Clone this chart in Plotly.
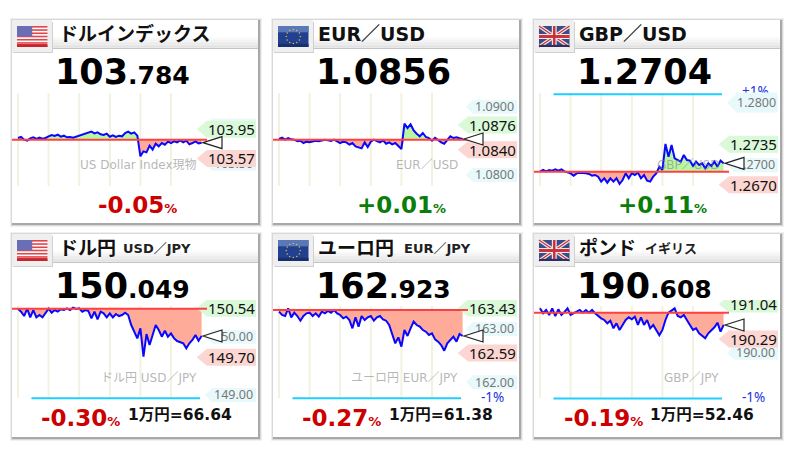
import numpy as np
import plotly.graph_objects as go

W, H = 788, 458
JP = "DejaVu Sans, Noto Sans CJK JP"
TAG_FONT = "Noto Sans, Noto Sans CJK JP"

titles = ["ドルインデックス", "EUR／USD", "GBP／USD", "ドル円", "ユーロ円", "ポンド"]
subtitles = ["", "", "", "USD／JPY", "EUR／JPY", "イギリス"]
flags = ["us", "eu", "uk", "us", "eu", "uk"]
price_main = ["103", "1.0856", "1.2704", "150", "162", "190"]
price_frac = [".784", "", "", ".049", ".923", ".608"]
changes = ["-0.05", "+0.01", "+0.11", "-0.30", "-0.27", "-0.19"]
yen_rates = ["", "", "", "1万円=66.64", "1万円=61.38", "1万円=52.46"]
marks = ["US Dollar Index現物", "EUR／USD", "GBP／USD", "ドル円 USD／JPY", "ユーロ円 EUR／JPY", "GBP／JPY"]

prev_close = [103.815, 1.08517, 1.26893, 150.48, 163.356, 190.857]
high_vals = [103.95, 1.0876, 1.2735, 150.54, 163.43, 191.04]
high_text = ["103.95", "1.0876", "1.2735", "150.54", "163.43", "191.04"]
low_vals = [103.57, 1.0840, 1.2670, 149.70, 162.59, 190.29]
low_text = ["103.57", "1.0840", "1.2670", "149.70", "162.59", "190.29"]
tick_vals = [[104.0, 103.5], [1.09, 1.08], [1.28, 1.27], [150.0, 149.0], [163.0, 162.0], [190.0]]
tick_text = [["104.00", "103.50"], ["1.0900", "1.0800"], ["1.2800", "1.2700"],
             ["150.00", "149.00"], ["163.00", "162.00"], ["190.00"]]
pct_lines = [None, None, 1.28134, 148.943, 161.70, 189.02]
pct_text = ["", "", "+1%", "", "-1%", "-1%"]
y_ranges = [(103.025, 104.544), (1.07634, 1.09332), (1.26438, 1.283),
            (148.846, 150.629), (161.594, 163.544), (188.90, 191.128)]
grid_steps = [0, 10, 20, 30, 40, 50]

dxy = [103.837, 103.85, 103.815, 103.802, 103.832, 103.846, 103.824, 103.841, 103.828, 103.837,
       103.859, 103.876, 103.863, 103.881, 103.854, 103.867, 103.846, 103.85, 103.841, 103.854,
       103.867, 103.881, 103.894, 103.902, 103.92, 103.898, 103.911, 103.885, 103.876, 103.894,
       103.854, 103.872, 103.85, 103.867, 103.859, 103.902, 103.92, 103.894, 103.911, 103.867,
       103.597, 103.662, 103.649, 103.736, 103.684, 103.763, 103.728, 103.771, 103.749, 103.789,
       103.771, 103.793, 103.78, 103.806, 103.78, 103.802, 103.754, 103.771, 103.793, 103.767, 103.776]
eurusd = [1.08527, 1.08546, 1.08517, 1.08541, 1.08522, 1.08517, 1.08493, 1.08502, 1.08468, 1.08488,
          1.08478, 1.08488, 1.08502, 1.08493, 1.08502, 1.08517, 1.08507, 1.08497, 1.08517, 1.08497,
          1.08468, 1.08488, 1.08478, 1.08444, 1.08468, 1.08419, 1.084, 1.0839, 1.08478, 1.0841,
          1.08488, 1.08517, 1.08497, 1.08478, 1.08507, 1.08458, 1.08478, 1.08449, 1.08468, 1.08429,
          1.0838, 1.08751, 1.08688, 1.08741, 1.08654, 1.08605, 1.08566, 1.08615, 1.08556, 1.08541,
          1.08502, 1.08546, 1.08507, 1.08478, 1.08458, 1.08507, 1.08566, 1.08541, 1.08551, 1.08537, 1.08527]
gbpusd = [1.26893, 1.2692, 1.26898, 1.2692, 1.26909, 1.2693, 1.26909, 1.2693, 1.26898, 1.26877,
          1.26866, 1.26829, 1.26866, 1.26877, 1.26877, 1.26866, 1.26856, 1.26829, 1.2684, 1.26813,
          1.26733, 1.26786, 1.26716, 1.26786, 1.26733, 1.26786, 1.26695, 1.26759, 1.26866, 1.26786,
          1.26866, 1.2684, 1.26877, 1.26786, 1.2684, 1.26749, 1.26733, 1.26813, 1.26866, 1.26973,
          1.2692, 1.27337, 1.27134, 1.27321, 1.27107, 1.2708, 1.27054, 1.27161, 1.2708, 1.2707,
          1.26984, 1.27054, 1.27, 1.27027, 1.26946, 1.27027, 1.26984, 1.27054, 1.26973, 1.2707, 1.27027]
usdjpy = [150.48, 150.429, 150.354, 150.48, 150.331, 150.457, 150.331, 150.371, 150.331, 150.411,
          150.48, 150.411, 150.457, 150.429, 150.469, 150.457, 150.486, 150.457, 150.497, 150.474,
          150.486, 150.429, 150.457, 150.44, 150.314, 150.429, 150.297, 150.429, 150.4, 150.331,
          150.4, 150.331, 150.389, 150.354, 150.371, 150.411, 150.371, 150.2, 150.086, 149.971,
          150.143, 149.657, 150.046, 149.857, 150.029, 150.2, 150.114, 150.0, 150.103, 150.0,
          150.057, 149.971, 149.926, 149.903, 149.886, 149.8, 149.886, 149.943, 150.029, 149.931, 150.011]
eurjpy = [163.325, 163.263, 163.244, 163.388, 163.219, 163.306, 163.244, 163.156, 163.244, 163.294,
          163.306, 163.244, 163.294, 163.231, 163.325, 163.294, 163.338, 163.306, 163.356, 163.294,
          163.263, 163.2, 163.231, 163.169, 163.013, 163.219, 163.044, 163.244, 163.169, 163.219,
          163.244, 163.156, 163.219, 163.244, 163.181, 163.156, 163.075, 162.919, 162.731, 162.844,
          162.669, 162.981, 162.869, 163.013, 163.138, 163.075, 163.044, 162.981, 162.95, 162.888,
          162.919, 162.806, 162.763, 162.7, 162.594, 162.731, 162.794, 162.856, 162.763, 162.906, 162.869]
gbpjpy = [190.95, 190.843, 190.914, 190.807, 190.95, 190.785, 190.928, 190.807, 190.871, 190.95,
          190.807, 190.843, 190.871, 190.914, 190.857, 190.914, 190.857, 190.914, 190.843, 190.785,
          190.735, 190.7, 190.628, 190.685, 190.521, 190.628, 190.486, 190.593, 190.7, 190.757,
          190.714, 190.771, 190.593, 190.757, 190.593, 190.7, 190.521, 190.593, 190.486, 190.371,
          190.486, 190.7, 190.857, 190.914, 190.95, 190.785, 190.757, 190.807, 190.685, 190.593,
          190.486, 190.521, 190.414, 190.357, 190.307, 190.414, 190.486, 190.543, 190.642, 190.45, 190.593]
series = [dxy, eurusd, gbpusd, usdjpy, eurjpy, gbpjpy]

card_left = [12, 273, 534, 12, 273, 534]
card_top = [20, 20, 20, 234, 234, 234]
sub_offset = [0, 0, 0, 110, 130, 110]
CARD_W = 246
CARD_H = 203
tag_shift = [0, -2, -1, -3, -2, 0]

shapes = []
notes = []


def px(x):
    return x / W


def py(y):
    return 1 - y / H


def rect(x0, y0, x1, y1, color, layer="below"):
    shapes.append(dict(type="rect", xref="paper", yref="paper", x0=px(x0), x1=px(x1), y0=py(y0), y1=py(y1),
                       fillcolor=color, line_width=0, layer=layer))


def seg(x0, y0, x1, y1, color, width):
    shapes.append(dict(type="line", xref="paper", yref="paper", x0=px(x0), x1=px(x1), y0=py(y0), y1=py(y1),
                       line=dict(color=color, width=width), layer="below"))


def text(x, y, s, size, color, anchor="left", font=JP, bold=False):
    notes.append(dict(xref="paper", yref="paper", x=px(x), y=py(y), text=f"<b>{s}</b>" if bold else s,
                      showarrow=False, xanchor=anchor, yanchor="middle", borderpad=0,
                      font=dict(family=font, size=size, color=color)))


def draw_flag(kind, x0, y0, x1, y1):
    """Flags are plain rectangles, lines and dots."""
    w, h = x1 - x0, y1 - y0
    if kind == "us":
        rect(x0, y0, x1, y1, "#ffffff")
        for i in range(0, 7):
            top = y0 + h * i * 2 / 13
            rect(x0, top, x1, top + h / 13, "#e0474c")
        rect(x0, y1 - h * 0.14, x1, y1, "#c8242a")
        rect(x0, y0, x0 + w * 0.5, y0 + h * 0.5, "#6a6fb5")
    elif kind == "eu":
        rect(x0, y0, x1, y1, "#22408f")
        rect(x0, y0, x1, y0 + h * 0.3, "#5a78b8")
        rect(x0, y1 - h * 0.15, x1, y1, "#16306e")
        cx, cy = (x0 + x1) / 2, (y0 + y1) / 2
        for a in np.arange(0, 360, 30):
            sx = cx + 7 * np.cos(np.radians(a))
            sy = cy + 7 * np.sin(np.radians(a))
            shapes.append(dict(type="circle", xref="paper", yref="paper", x0=px(sx - 0.7), x1=px(sx + 0.7),
                               y0=py(sy - 0.7), y1=py(sy + 0.7), fillcolor="#e8c840", line_width=0, layer="below"))
    else:
        rect(x0, y0, x1, y1, "#3c4a86")
        seg(x0, y0, x1, y1, "#f2e8e8", 3.5)
        seg(x0, y1, x1, y0, "#f2e8e8", 3.5)
        seg(x0, y0, x1, y1, "#c8303a", 1.2)
        seg(x0, y1, x1, y0, "#c8303a", 1.2)
        rect(x0 + w * 0.42, y0, x0 + w * 0.58, y1, "#f2e8e8")
        rect(x0, y0 + h * 0.38, x1, y0 + h * 0.62, "#f2e8e8")
        rect(x0 + w * 0.46, y0, x0 + w * 0.54, y1, "#c8303a")
        rect(x0, y0 + h * 0.43, x1, y0 + h * 0.57, "#c8303a")
        rect(x0, y1 - h * 0.1, x1, y1, "#2a3060")


def draw_card(i):
    """Card frame with shadow, header gradient and the tab under the flag."""
    L, T = card_left[i], card_top[i]
    R, B = L + CARD_W, T + CARD_H
    rect(L - 2, T - 2, R + 4, B + 4, "#f0f0f0")
    rect(L - 1, T - 1, R + 3, B + 3, "#d8d8d8")
    rect(L, T, R + 2, B + 2, "#a8a8a8")
    rect(L, T, R, B, "#ffffff")
    for k in range(12):
        shade = 255 - max(0, k - 3) * 4
        rect(L, T + 11 + k * 1.5, R, T + 11 + (k + 1) * 1.5, f"rgb({shade},{shade},{shade})")
    seg(L, T + 28.5, R, T + 28.5, "#c4c4c4", 1)
    rect(L + 1, T + 2, L + 41, T + 33, "#d0d0d0")
    rect(L, T, L + 40, T + 32, "#efefef")
    draw_flag(flags[i], L + 5, T + 6, L + 35.5, T + 27)


fig = go.Figure()

for i, values in enumerate(series):
    L, T = card_left[i], card_top[i]
    top_row = i < 3
    ax = "" if i == 0 else str(i + 1)
    xname, yname = "x" + ax, "y" + ax
    prev = prev_close[i]
    draw_card(i)

    grid0 = L + 6
    plot_top, plot_bottom = (84, 200) if top_row else (300, 404)
    fig.update_layout(**{
        "xaxis" + ax: dict(domain=[px(grid0 - 3.06), px(grid0 + 186.66)], range=[-1, 61], visible=False,
                           anchor=yname, fixedrange=True),
        "yaxis" + ax: dict(domain=[py(plot_bottom), py(plot_top)], range=list(y_ranges[i]), side="right",
                           anchor="free", position=px(L + 201), showgrid=False, zeroline=False, showline=False,
                           ticks="", tickmode="array",
                           tickvals=[v for v in tick_vals[i] if not (i == 2 and v == 1.28)],
                           ticktext=[s for s in tick_text[i] if not (i == 2 and s == "1.2800")],
                           tickfont=dict(family=TAG_FONT, size=12.5, color="#777777"), fixedrange=True),
    })

    # session grid
    grid_y = (93, 186) if top_row else (306, 398)
    for g in grid_steps:
        shapes.append(dict(type="line", xref=xname, yref="paper", x0=g, x1=g, y0=py(grid_y[0]), y1=py(grid_y[1]),
                           line=dict(color="#f2f2e0", width=2), layer="below"))

    # pale arrow tags behind the axis labels
    for v in tick_vals[i]:
        shapes.append(dict(type="path", xref="paper", yref=yname, ysizemode="pixel", yanchor=v,
                           path=f"M {px(L + 193)} 0 L {px(L + 200)} 7 L {px(L + 244)} 7 "
                                f"L {px(L + 244)} -7 L {px(L + 200)} -7 Z",
                           fillcolor="#e8f9fb", line_width=0, layer="below"))

    # filled area against previous close, then the price line
    xs = list(range(len(values)))
    low_side = np.minimum(values, prev)
    high_side = np.maximum(values, prev)
    base = [prev] * len(values)
    for side, color in ((low_side, "#ffab99"), (high_side, "#b9f5a2")):
        fig.add_trace(go.Scatter(x=xs, y=base, mode="lines", line_width=0, xaxis=xname, yaxis=yname,
                                 showlegend=False, hoverinfo="skip"))
        fig.add_trace(go.Scatter(x=xs, y=side, mode="lines", line_width=0, fill="tonexty", fillcolor=color,
                                 xaxis=xname, yaxis=yname, showlegend=False, hoverinfo="skip"))
    fig.add_trace(go.Scatter(x=xs, y=values, mode="lines", line=dict(color="#0808ff", width=2),
                             xaxis=xname, yaxis=yname, showlegend=False, hoverinfo="skip"))

    # high / low tags sit above the axis labels
    sh = tag_shift[i]
    for v, s, fillc in ((high_vals[i], high_text[i], "#d9f9d9"), (low_vals[i], low_text[i], "#fcd6d2")):
        shapes.append(dict(type="path", xref="paper", yref=yname, ysizemode="pixel", yanchor=v,
                           path=f"M {px(L + 184.7)} {sh} L {px(L + 195)} {sh + 8.5} L {px(L + 244)} {sh + 8.5} "
                                f"L {px(L + 244)} {sh - 8.5} L {px(L + 195)} {sh - 8.5} Z",
                           fillcolor=fillc, line_width=0, layer="above"))
        notes.append(dict(xref="paper", yref=yname, x=px(L + 243.5), y=v, yshift=sh, text=s, showarrow=False,
                          xanchor="right", yanchor="middle", borderpad=0,
                          font=dict(family=TAG_FONT, size=15, color="#111111")))

    # previous close
    shapes.append(dict(type="line", xref="paper", yref=yname, x0=px(L), x1=px(L + 195), y0=prev, y1=prev,
                       line=dict(color="#ff4040", width=2), layer="above"))

    # marker at the last price
    shapes.append(dict(type="path", xref="paper", yref=yname, ysizemode="pixel", yanchor=values[-1],
                       path=f"M {px(L + 191)} 0 L {px(L + 210)} 6 L {px(L + 210)} -6 Z",
                       fillcolor="#ffffff", line=dict(color="#222222", width=1.2), layer="above"))

    if pct_lines[i] is not None:
        shapes.append(dict(type="line", xref=xname, yref=yname, x0=4.4, x1=59.5, y0=pct_lines[i], y1=pct_lines[i],
                           line=dict(color="#22ccff", width=2), layer="below"))
    if pct_text[i]:
        y_label = T + 71 if i == 2 else T + 163
        text(L + 207, y_label, pct_text[i], 13.5, "#2233dd", font=TAG_FONT)
    if i == 2:
        notes.append(dict(xref="paper", yref=yname, x=px(L + 243.5), y=1.28, text="1.2800", showarrow=False,
                          xanchor="right", yanchor="middle", bgcolor="#e8f9fb", borderpad=1,
                          font=dict(family=TAG_FONT, size=12.5, color="#777777")))

    # header and readouts
    text(L + (46 if flags[i] == "us" else 44), T + 14, titles[i], 19, "#111111", bold=True)
    if subtitles[i]:
        text(L + sub_offset[i], T + 14, subtitles[i], 13, "#222222", bold=True)
    big = price_main[i]
    if price_frac[i]:
        big += f"<span style='font-size:25px'>{price_frac[i]}</span>"
    text(L + 42, T + 52, big, 35, "#000000", bold=True)
    mark_y = T + 145 if top_row else T + 144
    text(L + 186, mark_y, marks[i], 12, "rgba(120,120,120,0.55)", anchor="right")

    up = changes[i].startswith("+")
    color = "#0a7d0a" if up else "#cc0000"
    if top_row:
        pct_x = [84.7, 82.7, 82.7][i]
        pct_y = T + 185
    else:
        pct_x = [28, 28, 28.7][i - 3]
        pct_y = T + 184
    text(L + pct_x, pct_y, f"{changes[i]}<span style='font-size:13px'>%</span>", 23, color, bold=True)
    if yen_rates[i]:
        text(L + 114.7, T + 181, yen_rates[i], 15.5, "#111111", bold=True)

fig.update_layout(width=W, height=H, margin=dict(l=0, r=0, t=0, b=0), paper_bgcolor="#ffffff",
                  plot_bgcolor="rgba(0,0,0,0)", showlegend=False, shapes=shapes, annotations=notes)

fig.write_html("out.html", config={"displayModeBar": False}, post_script="document.body.style.margin='0';")
